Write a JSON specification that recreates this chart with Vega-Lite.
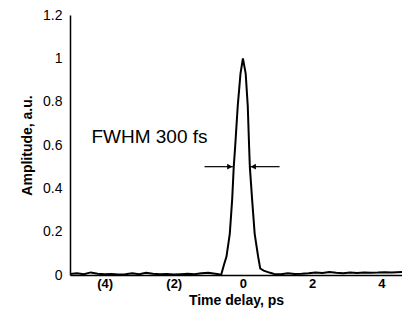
{
  "$schema": "https://vega.github.io/schema/vega-lite/v6.json",
  "autosize": "none",
  "width": 332,
  "height": 260,
  "padding": {"left": 70, "top": 15, "right": 0, "bottom": 45},
  "background": "white",
  "config": {
    "view": {"stroke": null},
    "font": "Liberation Sans",
    "axis": {
      "domainColor": "black",
      "domainWidth": 1.5,
      "ticks": false,
      "grid": false,
      "labelColor": "black",
      "titleColor": "black",
      "labelFont": "Liberation Sans",
      "titleFont": "Liberation Sans"
    }
  },
  "datasets": {
    "pulse": [
      {"t": -5.0, "a": 0.005}, {"t": -4.8, "a": 0.008}, {"t": -4.6, "a": 0.004}, {"t": -4.4, "a": 0.012},
      {"t": -4.2, "a": 0.006}, {"t": -4.0, "a": 0.003}, {"t": -3.8, "a": 0.005}, {"t": -3.6, "a": 0.002},
      {"t": -3.4, "a": 0.004}, {"t": -3.2, "a": 0.008}, {"t": -3.0, "a": 0.004}, {"t": -2.8, "a": 0.01},
      {"t": -2.6, "a": 0.006}, {"t": -2.4, "a": 0.003}, {"t": -2.2, "a": 0.005}, {"t": -2.0, "a": 0.002},
      {"t": -1.8, "a": 0.004}, {"t": -1.6, "a": 0.006}, {"t": -1.4, "a": 0.003}, {"t": -1.2, "a": 0.008},
      {"t": -1.0, "a": 0.01}, {"t": -0.8, "a": 0.006}, {"t": -0.7, "a": 0.003},
      {"t": -0.63, "a": 0.0}, {"t": -0.55, "a": 0.046}, {"t": -0.475, "a": 0.085}, {"t": -0.38, "a": 0.19},
      {"t": -0.31, "a": 0.35}, {"t": -0.265, "a": 0.5}, {"t": -0.225, "a": 0.59}, {"t": -0.15, "a": 0.78},
      {"t": -0.07, "a": 0.93}, {"t": 0.0, "a": 1.0}, {"t": 0.08, "a": 0.93}, {"t": 0.14, "a": 0.78},
      {"t": 0.18, "a": 0.59}, {"t": 0.2, "a": 0.5}, {"t": 0.265, "a": 0.35}, {"t": 0.34, "a": 0.19},
      {"t": 0.44, "a": 0.085}, {"t": 0.5, "a": 0.03}, {"t": 0.6, "a": 0.02}, {"t": 0.79, "a": 0.01},
      {"t": 0.9, "a": 0.005}, {"t": 1.1, "a": 0.004}, {"t": 1.3, "a": 0.008}, {"t": 1.5, "a": 0.005},
      {"t": 1.7, "a": 0.006}, {"t": 1.9, "a": 0.008}, {"t": 2.1, "a": 0.012}, {"t": 2.3, "a": 0.009},
      {"t": 2.5, "a": 0.014}, {"t": 2.7, "a": 0.01}, {"t": 2.9, "a": 0.008}, {"t": 3.1, "a": 0.011},
      {"t": 3.3, "a": 0.009}, {"t": 3.5, "a": 0.012}, {"t": 3.7, "a": 0.01}, {"t": 3.9, "a": 0.011},
      {"t": 4.1, "a": 0.013}, {"t": 4.3, "a": 0.012}, {"t": 4.6, "a": 0.014}
    ],
    "arrows": [
      {"t": -1.11, "a": 0.5, "g": "L"}, {"t": -0.29, "a": 0.5, "g": "L"},
      {"t": 0.216, "a": 0.5, "g": "R"}, {"t": 1.06, "a": 0.5, "g": "R"}
    ],
    "heads": [
      {"t": -0.38, "a": 0.5, "s": "triangle-right"},
      {"t": 0.3, "a": 0.5, "s": "triangle-left"}
    ],
    "label": [{"t": -4.38, "a": 0.635, "txt": "FWHM 300 fs"}]
  },
  "layer": [
    {
      "data": {"name": "pulse"},
      "mark": {"type": "line", "color": "black", "strokeWidth": 2, "interpolate": "linear"},
      "encoding": {
        "x": {
          "field": "t", "type": "quantitative",
          "scale": {"domain": [-5, 4.6], "nice": false, "zero": false},
          "axis": {
            "values": [-4, -2, 0, 2, 4],
            "labelExpr": "datum.value < 0 ? '(' + abs(datum.value) + ')' : datum.label",
            "labelFontSize": 13, "labelFontWeight": "bold", "labelPadding": 2,
            "title": "Time delay, ps", "titleFontSize": 14, "titleFontWeight": "bold", "titlePadding": 3
          }
        },
        "y": {
          "field": "a", "type": "quantitative",
          "scale": {"domain": [0, 1.2], "nice": false},
          "axis": {
            "values": [0, 0.2, 0.4, 0.6, 0.8, 1, 1.2],
            "format": ".1~f",
            "labelFontSize": 14, "labelFontWeight": 500, "labelPadding": 8,
            "title": "Amplitude, a.u.", "titleFontSize": 14, "titleFontWeight": "bold", "titlePadding": 8
          }
        }
      }
    },
    {
      "mark": {"type": "rule", "color": "black", "strokeWidth": 1.5},
      "encoding": {"y": {"datum": 1.2, "type": "quantitative"}}
    },
    {
      "data": {"name": "arrows"},
      "mark": {"type": "line", "color": "black", "strokeWidth": 1.2},
      "encoding": {
        "x": {"field": "t", "type": "quantitative"},
        "y": {"field": "a", "type": "quantitative"},
        "detail": {"field": "g"}
      }
    },
    {
      "data": {"name": "heads"},
      "mark": {"type": "point", "filled": true, "color": "black", "opacity": 1, "size": 35},
      "encoding": {
        "x": {"field": "t", "type": "quantitative"},
        "y": {"field": "a", "type": "quantitative"},
        "shape": {"field": "s", "type": "nominal", "scale": null, "legend": null}
      }
    },
    {
      "data": {"name": "label"},
      "mark": {"type": "text", "align": "left", "baseline": "middle", "fontSize": 19, "color": "black", "font": "Liberation Sans"},
      "encoding": {
        "x": {"field": "t", "type": "quantitative"},
        "y": {"field": "a", "type": "quantitative"},
        "text": {"field": "txt"}
      }
    }
  ]
}
